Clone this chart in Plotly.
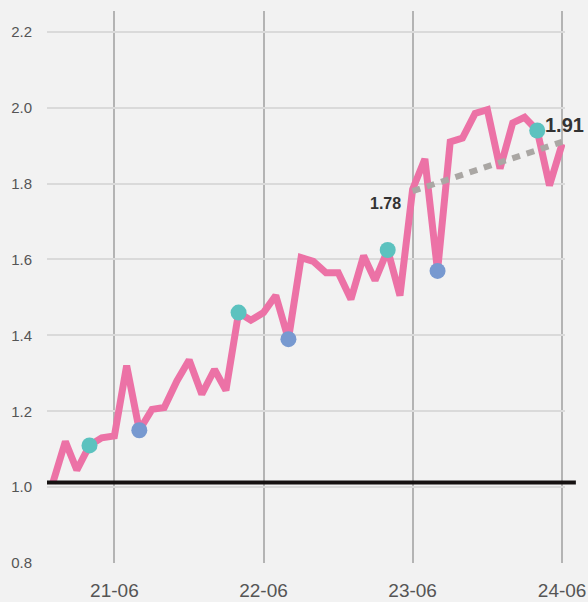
import plotly.graph_objects as go

# --- colours ---
BG = "#f2f2f2"
PINK = "#ec72a6"
TEAL = "#5cc2bf"
BLUE = "#7799d0"
TREND = "#aaa7a4"
TEXT = "#555"

# --- data (monthly, 2021-01 .. 2024-06) ---
months = [f"{y}-{m:02d}-01" for y in (2021, 2022, 2023) for m in range(1, 13)] + \
         [f"2024-{m:02d}-01" for m in range(1, 7)]
values = [
    1.01, 1.12, 1.045, 1.11, 1.13, 1.135, 1.32, 1.15, 1.205, 1.21, 1.28, 1.335,
    1.245, 1.31, 1.255, 1.46, 1.44, 1.46, 1.505, 1.39, 1.605, 1.595, 1.565, 1.565,
    1.495, 1.61, 1.545, 1.625, 1.505, 1.785, 1.865, 1.57, 1.91, 1.92, 1.985, 1.995,
    1.84, 1.96, 1.975, 1.94, 1.795, 1.905,
]
teal_months = ["2021-04-01", "2022-04-01", "2023-04-01", "2024-04-01"]
blue_months = ["2021-08-01", "2022-08-01", "2023-08-01"]
trend_months = ["2023-06-01", "2024-06-01"]
trend_values = [1.78, 1.91]
baseline = 1.012
tick_months = ["2021-06-01", "2022-06-01", "2023-06-01", "2024-06-01"]
tick_labels = ["21-06", "22-06", "23-06", "24-06"]

lookup = dict(zip(months, values))

fig = go.Figure()

fig.add_trace(go.Scatter(
    x=months, y=values, mode="lines",
    line=dict(color=PINK, width=7),
    showlegend=False, hoverinfo="none",
))

fig.add_trace(go.Scatter(
    x=trend_months, y=trend_values, mode="lines",
    line=dict(color=TREND, width=6, dash="8px,7px"),
    showlegend=False, hoverinfo="none",
))

fig.add_trace(go.Scatter(
    x=teal_months, y=[lookup[m] for m in teal_months], mode="markers",
    marker=dict(color=TEAL, size=16, line=dict(width=0)),
    showlegend=False, hoverinfo="none",
))
fig.add_trace(go.Scatter(
    x=blue_months, y=[lookup[m] for m in blue_months], mode="markers",
    marker=dict(color=BLUE, size=16, line=dict(width=0)),
    showlegend=False, hoverinfo="none",
))

annotations = [
    dict(x=trend_months[0], y=trend_values[0], text=f"<b>{trend_values[0]:.2f}</b>",
         showarrow=False, xanchor="right", yanchor="top", xshift=-10, yshift=-2,
         font=dict(size=16, color="#333")),
    dict(x=trend_months[1], y=trend_values[1], text=f"<b>{trend_values[1]:.2f}</b>",
         showarrow=False, xanchor="center", yanchor="bottom", xshift=2, yshift=4,
         font=dict(size=20, color="#333")),
]

shapes = [
    dict(type="line", xref="paper", yref="y", x0=0, x1=1.021,
         y0=baseline, y1=baseline, line=dict(color="#161212", width=4), layer="above"),
]

fig.update_layout(
    width=588, height=602,
    margin=dict(l=47, r=23, t=11, b=39),
    paper_bgcolor=BG, plot_bgcolor=BG,
    font=dict(family="Liberation Sans, Arial, sans-serif", color=TEXT),
    xaxis=dict(
        type="date",
        range=["2020-12-18", "2024-06-08"],
        tickvals=tick_months, ticktext=tick_labels,
        showgrid=True, gridcolor="#b4b4b4", gridwidth=1.5,
        zeroline=False, showline=False, automargin=False,
        tickfont=dict(size=19, color=TEXT),
        ticklabelstandoff=14,
    ),
    yaxis=dict(
        range=[0.8, 2.255],
        tickvals=[0.8, 1.0, 1.2, 1.4, 1.6, 1.8, 2.0, 2.2],
        tickformat=".1f",
        showgrid=True, gridcolor="#dadada", gridwidth=1.5,
        zeroline=False, showline=False, automargin=False,
        tickfont=dict(size=15, color=TEXT),
        ticklabelstandoff=14,
    ),
    annotations=annotations,
    shapes=shapes,
)

# drop the default 8px page margin so the figure fills the window exactly
fig.write_html("out.html", config={"displayModeBar": False},
               post_script="document.body.style.margin='0';")
